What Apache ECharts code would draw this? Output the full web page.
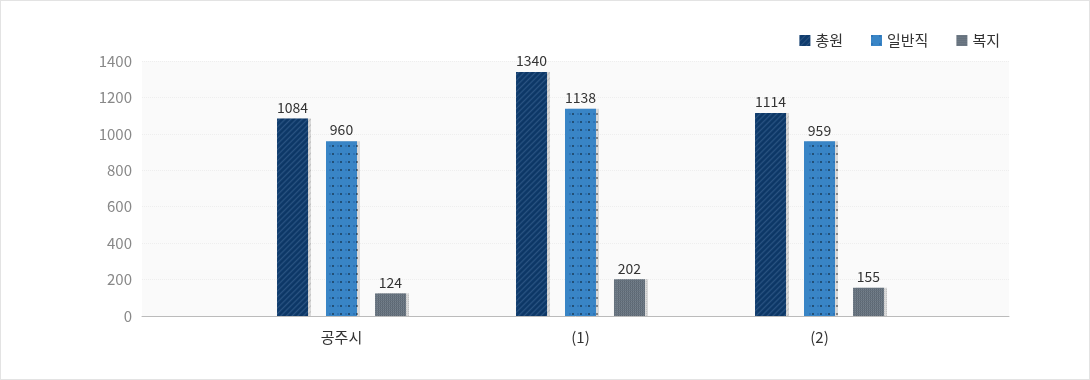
<!DOCTYPE html>
<html><head><meta charset="utf-8">
<script src="https://cdn.jsdelivr.net/npm/echarts@6/dist/echarts.min.js"></script>
<style>html,body{margin:0;padding:0;background:#fff}#c{width:1090px;height:380px;box-sizing:border-box;border:1px solid #e3e3e3}</style>
</head><body><div id="c"></div>
<script>
const categories = ['공주시', '(1)', '(2)'];
const seriesNames = ['총원', '일반직', '복지'];
const total = [1084, 1340, 1114];
const general = [960, 1138, 959];
const welfare = [124, 202, 155];
const yTicks = [0, 200, 400, 600, 800, 1000, 1200, 1400];

const font = '"Noto Sans CJK KR", "Noto Sans", sans-serif';
const chart = echarts.init(document.getElementById('c'));
const shadow = {shadowColor:'rgba(0,0,0,0.13)', shadowOffsetX:3, shadowOffsetY:0, shadowBlur:0};
function mk(name, data, color, decal){
  return {
    name, type:'bar', data, xAxisIndex:1, yAxisIndex:1, barWidth:31, barGap:'58%',
    itemStyle:Object.assign({color, decal}, shadow),
    label:{show:true, position:'top', distance:4, color:'#333', fontSize:14, fontFamily:font}
  };
}
chart.setOption({
  animation:false,
  textStyle:{fontFamily:font},
  legend:{
    data:seriesNames, right:84, top:27, icon:'rect', itemWidth:11, itemHeight:11, itemGap:28,
    textStyle:{color:'#333', fontSize:15, fontFamily:font}
  },
  grid:[
    {left:141, right:80, top:60, bottom:63, show:true, backgroundColor:'#fafafa', borderWidth:0},
    {left:221, right:150, top:60, bottom:63}
  ],
  xAxis:[
    {gridIndex:0, type:'category', data:[''], axisLine:{lineStyle:{color:'#bbb'}}, axisTick:{show:false}, axisLabel:{show:false}},
    {gridIndex:1, type:'category', data:categories, axisLine:{show:false}, axisTick:{show:false},
     axisLabel:{color:'#333', fontSize:15, margin:14, fontFamily:font}}
  ],
  yAxis:[
    {gridIndex:0, type:'value', min:yTicks[0], max:yTicks[yTicks.length-1], interval:200,
     axisLabel:{color:'#888', fontSize:15, margin:10, fontFamily:font, formatter:v=>String(v)},
     splitLine:{lineStyle:{color:'#eee', type:'dotted'}}, axisLine:{show:false}, axisTick:{show:false}},
    {gridIndex:1, type:'value', min:yTicks[0], max:yTicks[yTicks.length-1], interval:200, show:false, splitLine:{show:false}}
  ],
  series:[
    mk(seriesNames[0], total, '#0f3c6e', {symbol:'rect', dashArrayX:[1,0], dashArrayY:[1,3], rotation:-Math.PI/4, color:'rgba(255,255,255,0.12)'}),
    mk(seriesNames[1], general, '#3985c6', {symbol:'rect', symbolSize:1, dashArrayX:[[2,6]], dashArrayY:[2,6], color:'rgba(30,90,160,0.4)'}),
    mk(seriesNames[2], welfare, '#66727e', {symbol:'rect', dashArrayX:[1,1], dashArrayY:[1,1], color:'rgba(255,255,255,0.1)'})
  ]
});
</script></body></html>
